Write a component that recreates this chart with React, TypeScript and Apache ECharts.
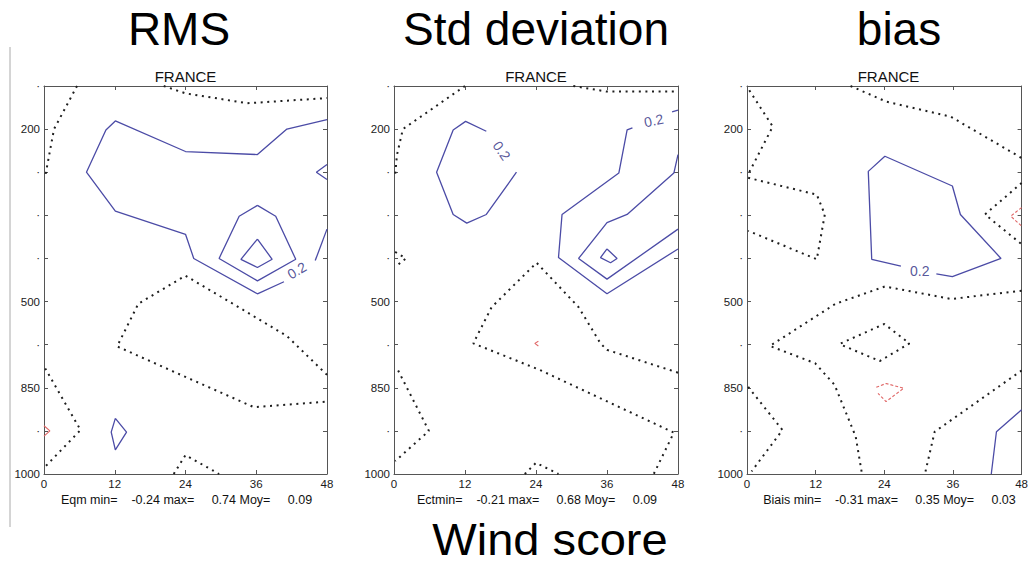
import React, { useEffect, useRef } from "react";
import * as echarts from "echarts";

// ---------- axis data ----------
const hourTicks = [0, 12, 24, 36, 48];
const levelLabels = ["", "200", "", "", "", "500", "", "850", "", "1000"];
const panelTitles = ["RMS", "Std deviation", "bias"];
const panelRegion = "FRANCE";
const panelStats = [
  "Eqm min=\u00a0\u00a0\u00a0 -0.24 max=\u00a0\u00a0\u00a0\u00a0 0.74 Moy=\u00a0\u00a0\u00a0\u00a0 0.09",
  "Ectmin=\u00a0\u00a0\u00a0 -0.21 max=\u00a0\u00a0\u00a0\u00a0 0.68 Moy=\u00a0\u00a0\u00a0\u00a0 0.09",
  "Biais min=\u00a0\u00a0\u00a0 -0.31 max=\u00a0\u00a0\u00a0\u00a0 0.35 Moy=\u00a0\u00a0\u00a0\u00a0 0.03",
];
const figureCaption = "Wind score";

// ---------- contour data: [forecast hour, level index] ----------
// Panel 1 : RMS
const rmsBlue02 = [[48, 0.78], [41.2, 1.0], [36.2, 1.59], [24, 1.52], [12.1, 0.81], [10.5, 1.02], [7.2, 2.0], [12.1, 2.9], [24, 3.44], [25.4, 4.0], [36.2, 4.82], [40.7, 4.54]];
const rmsBlue02b = [[46, 4.05], [48, 3.32]];
const rmsBlueMid = [[36.2, 2.77], [39.3, 3.02], [42.7, 4.02], [36.2, 4.52], [29.7, 4.0], [33.1, 3.02], [36.2, 2.77]];
const rmsBlueInner = [[36.2, 3.55], [38.7, 4.02], [36.2, 4.21], [33.4, 4.02], [36.2, 3.55]];
const rmsBlueEdge = [[48, 1.82], [46.2, 2.0], [48, 2.17]];
const rmsBlueDiamond = [[12.1, 7.71], [14, 8.03], [12.1, 8.44], [11.4, 8.03], [12.1, 7.71]];
const rmsDotTopLeft = [[5.6, 0], [1.7, 1.0], [0.2, 2.1]];
const rmsDotTop = [[20.3, 0], [24, 0.17], [34.5, 0.4], [48, 0.28]];
const rmsDotMid = [[48, 6.7], [41.2, 5.8], [33, 5.13], [24, 4.4], [16, 5.05], [12.4, 6.04], [23.2, 6.7], [35.6, 7.45], [48, 7.32]];
const rmsDotBottomLeft = [[0.2, 6.55], [6.2, 7.98], [0.2, 8.83]];
const rmsDotBottom = [[22, 9], [24, 8.56], [29.7, 9]];
const rmsRed = [[0, 7.88], [1, 8.0], [0, 8.12]];
const rmsLabels = [{ at: [42.9, 4.28], text: "0.2", rotate: 30 }];

// Panel 2 : Std deviation
const stdBlueLeft = [[15.6, 1.05], [12.1, 0.82], [10, 1.02], [7.2, 2.0], [10, 2.98], [12.3, 3.18], [15.6, 2.98], [20.7, 2.0]];
const stdBlueRight = [[40.3, 0.97], [39.4, 1.02], [38, 2.02], [28.4, 2.98], [27.8, 3.98], [36, 4.82], [48, 3.78]];
const stdBlueRightB = [[47, 0.6], [48, 0.56]];
const stdBlueMid = [[48, 1.59], [47.3, 2.02], [39.4, 2.98], [36, 3.17], [31.2, 4.0], [36, 4.48], [48, 3.32]];
const stdBlueInner = [[36, 3.78], [37.7, 4.0], [36.6, 4.1], [34.9, 3.98], [36, 3.78]];
const stdDotTopLeft = [[12, 0], [1.5, 1.0], [0.5, 1.6], [0.2, 2.05]];
const stdDotTopRight = [[30.3, 0], [36, 0.13], [48, 0.13]];
const stdDotMid = [[48, 6.65], [36, 6.12], [34.9, 5.97], [31.2, 5.13], [24.1, 4.1], [16.5, 5.13], [13.4, 5.97], [24.7, 6.59], [47.3, 8.04], [43.9, 9]];
const stdDotEdge = [[0.2, 3.85], [2, 4.0], [0.2, 4.2]];
const stdDotBottomLeft = [[0.7, 6.6], [5.9, 8.0], [0.2, 8.7]];
const stdDotBottom = [[22.1, 9], [24, 8.74], [27.8, 9]];
const stdRed = [[24.4, 5.92], [23.8, 5.97], [24.4, 6.03]];
const stdLabels = [
  { at: [18.2, 1.5], text: "0.2", rotate: -55 },
  { at: [43.9, 0.8], text: "0.2", rotate: 12 },
];

// Panel 3 : bias
const biasDotTopLeft = [[0.4, 0.1], [4.5, 0.94], [0.2, 2.05]];
const biasDotLeftDiamond = [[0.2, 2.13], [12.2, 2.52], [13.6, 2.98], [12.2, 4.02], [0.2, 3.36]];
const biasDotTop = [[18.1, 0], [24.3, 0.36], [35.6, 0.71], [48, 1.67]];
const biasDotRight = [[48, 2.25], [41.6, 2.98], [48, 3.67]];
const biasRedEdge = [[48, 2.82], [46.1, 3.02], [48, 3.25]];
const biasBlue02 = [[26.9, 4.18], [21.8, 4.02], [21.2, 1.98], [24.1, 1.63], [35.9, 2.32], [37.3, 2.98], [44.4, 4.0], [35.9, 4.42], [33.1, 4.36]];
const biasDotMid = [[48, 4.75], [35.7, 4.94], [24.1, 4.65], [15.5, 5.05], [4, 6.03], [11.9, 6.43], [15.3, 6.93], [19, 8.13], [20.1, 9]];
const biasDotDiamond = [[16.4, 5.97], [24, 5.52], [28.4, 5.97], [23.2, 6.38], [16.4, 6.0]];
const biasRedLoop = [[22.6, 6.99], [24.3, 6.9], [27.4, 7.01], [24.3, 7.32], [22.9, 7.13]];
const biasDotRight2 = [[48, 6.6], [32.8, 8.02], [31.1, 9]];
const biasDotBottomLeft = [[0.2, 6.98], [6.2, 7.98], [0.8, 8.94]];
const biasBlueBottom = [[48, 7.51], [43.6, 8.02], [42.7, 9]];
const biasLabels = [{ at: [30.2, 4.28], text: "0.2", rotate: 0 }];

const FONT = "'Liberation Sans', Arial, Helvetica, sans-serif";
const BLUE = "#4b4ba6";
const RED = "#e06666";
const DOT = "#1e1e1e";

type Kind = "blue" | "dot" | "red" | "redDash";
const panels: { lines: [number[][], Kind][]; labels: { at: number[]; text: string; rotate: number }[] }[] = [
  {
    lines: [
      [rmsBlue02, "blue"], [rmsBlue02b, "blue"], [rmsBlueMid, "blue"], [rmsBlueInner, "blue"],
      [rmsBlueEdge, "blue"], [rmsBlueDiamond, "blue"], [rmsDotTopLeft, "dot"], [rmsDotTop, "dot"],
      [rmsDotMid, "dot"], [rmsDotBottomLeft, "dot"], [rmsDotBottom, "dot"], [rmsRed, "red"],
    ],
    labels: rmsLabels,
  },
  {
    lines: [
      [stdBlueLeft, "blue"], [stdBlueRight, "blue"], [stdBlueRightB, "blue"], [stdBlueMid, "blue"],
      [stdBlueInner, "blue"], [stdDotTopLeft, "dot"], [stdDotTopRight, "dot"], [stdDotMid, "dot"],
      [stdDotEdge, "dot"], [stdDotBottomLeft, "dot"], [stdDotBottom, "dot"], [stdRed, "red"],
    ],
    labels: stdLabels,
  },
  {
    lines: [
      [biasDotTopLeft, "dot"], [biasDotLeftDiamond, "dot"], [biasDotTop, "dot"], [biasDotRight, "dot"],
      [biasRedEdge, "redDash"], [biasBlue02, "blue"], [biasDotMid, "dot"], [biasDotDiamond, "dot"],
      [biasRedLoop, "redDash"], [biasDotRight2, "dot"], [biasDotBottomLeft, "dot"], [biasBlueBottom, "blue"],
    ],
    labels: biasLabels,
  },
];

const gridBoxes = [
  { left: 44, width: 283 },
  { left: 394, width: 284 },
  { left: 747, width: 283 },
];
const GRID_TOP = 86;
const GRID_H = 388;

function lineStyleFor(kind: Kind) {
  if (kind === "blue") return { color: BLUE, width: 1.3, type: "solid" as any };
  if (kind === "red") return { color: RED, width: 1.1, type: "solid" as any };
  if (kind === "redDash") return { color: RED, width: 1.1, type: [3, 2] as any };
  return { color: DOT, width: 2, type: [2, 4.6] as any, cap: "butt" as any };
}

export default function App() {
  const ref = useRef<HTMLDivElement>(null);
  useEffect(() => {
    if (!ref.current) return;
    const chart = echarts.init(ref.current, undefined, { renderer: "svg" });
    const axisColor = "#555";
    const grid: any[] = [];
    const xAxis: any[] = [];
    const yAxis: any[] = [];
    const series: any[] = [];
    const graphic: any[] = [];

    gridBoxes.forEach((g, i) => {
      grid.push({ left: g.left, top: GRID_TOP, width: g.width, height: GRID_H, containLabel: false });
      const baseX = {
        gridIndex: i, type: "value", min: hourTicks[0], max: hourTicks[hourTicks.length - 1], interval: 12,
        axisLine: { show: true, onZero: false, lineStyle: { color: axisColor, width: 1 } },
        axisTick: { show: true, inside: true, length: 4, lineStyle: { color: axisColor } },
        splitLine: { show: false },
      };
      xAxis.push({ ...baseX, position: "bottom", axisLabel: { show: true, fontSize: 11.5, color: "#1a1a1a", margin: 4, fontFamily: FONT } });
      xAxis.push({ ...baseX, position: "top", axisLabel: { show: false } });
      const baseY = {
        gridIndex: i, type: "value", min: 0, max: levelLabels.length - 1, interval: 1, inverse: true,
        axisLine: { show: true, onZero: false, lineStyle: { color: axisColor, width: 1 } },
        axisTick: { show: true, inside: true, length: 4, lineStyle: { color: axisColor } },
        splitLine: { show: false },
      };
      yAxis.push({
        ...baseY, position: "left",
        axisLabel: {
          show: true, fontSize: 11.5, color: "#1a1a1a", margin: 4, fontFamily: FONT,
          formatter: (v: number) => (levelLabels[Math.round(v)] ? levelLabels[Math.round(v)] : "\u00b7"),
        },
      });
      yAxis.push({ ...baseY, position: "right", axisLabel: { show: false } });

      panels[i].lines.forEach(([data, kind]) => {
        series.push({
          type: "line", xAxisIndex: 2 * i, yAxisIndex: 2 * i, data, symbol: "none", showSymbol: false,
          silent: true, lineStyle: lineStyleFor(kind), clip: false, z: kind === "blue" ? 3 : 2,
        });
      });
      panels[i].labels.forEach((lb) => {
        series.push({
          type: "scatter", xAxisIndex: 2 * i, yAxisIndex: 2 * i, data: [lb.at], symbolSize: 1,
          itemStyle: { color: "rgba(0,0,0,0)" }, silent: true,
          label: { show: true, position: "inside", formatter: lb.text, rotate: lb.rotate, fontSize: 14, color: "#2b2b80", fontFamily: FONT },
        });
      });

      const cx = g.left + g.width / 2;
      graphic.push({ type: "text", x: cx, y: 76, style: { text: panelRegion, font: `15px ${FONT}`, fill: "#111", textAlign: "center", textVerticalAlign: "middle" } });
      graphic.push({ type: "text", x: cx + 1, y: 500, style: { text: panelStats[i], font: `12.5px ${FONT}`, fill: "#111", textAlign: "center", textVerticalAlign: "middle" } });
    });

    const titleX = [179, 536, 899];
    panelTitles.forEach((t, i) => {
      graphic.push({ type: "text", x: titleX[i], y: 29, style: { text: t, font: `46px ${FONT}`, fill: "#000", textAlign: "center", textVerticalAlign: "middle" } });
    });
    graphic.push({ type: "text", x: 550, y: 540, scaleX: 1.07, originX: 0, style: { text: figureCaption, font: `44px ${FONT}`, fill: "#000", textAlign: "center", textVerticalAlign: "middle" } });
    graphic.push({ type: "line", shape: { x1: 10, y1: 47, x2: 10, y2: 527 }, style: { stroke: "#aaa", lineWidth: 1 } });

    chart.setOption({
      animation: false,
      backgroundColor: "#fff",
      grid, xAxis, yAxis, series, graphic,
    });
    return () => chart.dispose();
  }, []);
  return <div ref={ref} style={{ position: "absolute", left: 0, top: 0, width: 1031, height: 565 }} />;
}
